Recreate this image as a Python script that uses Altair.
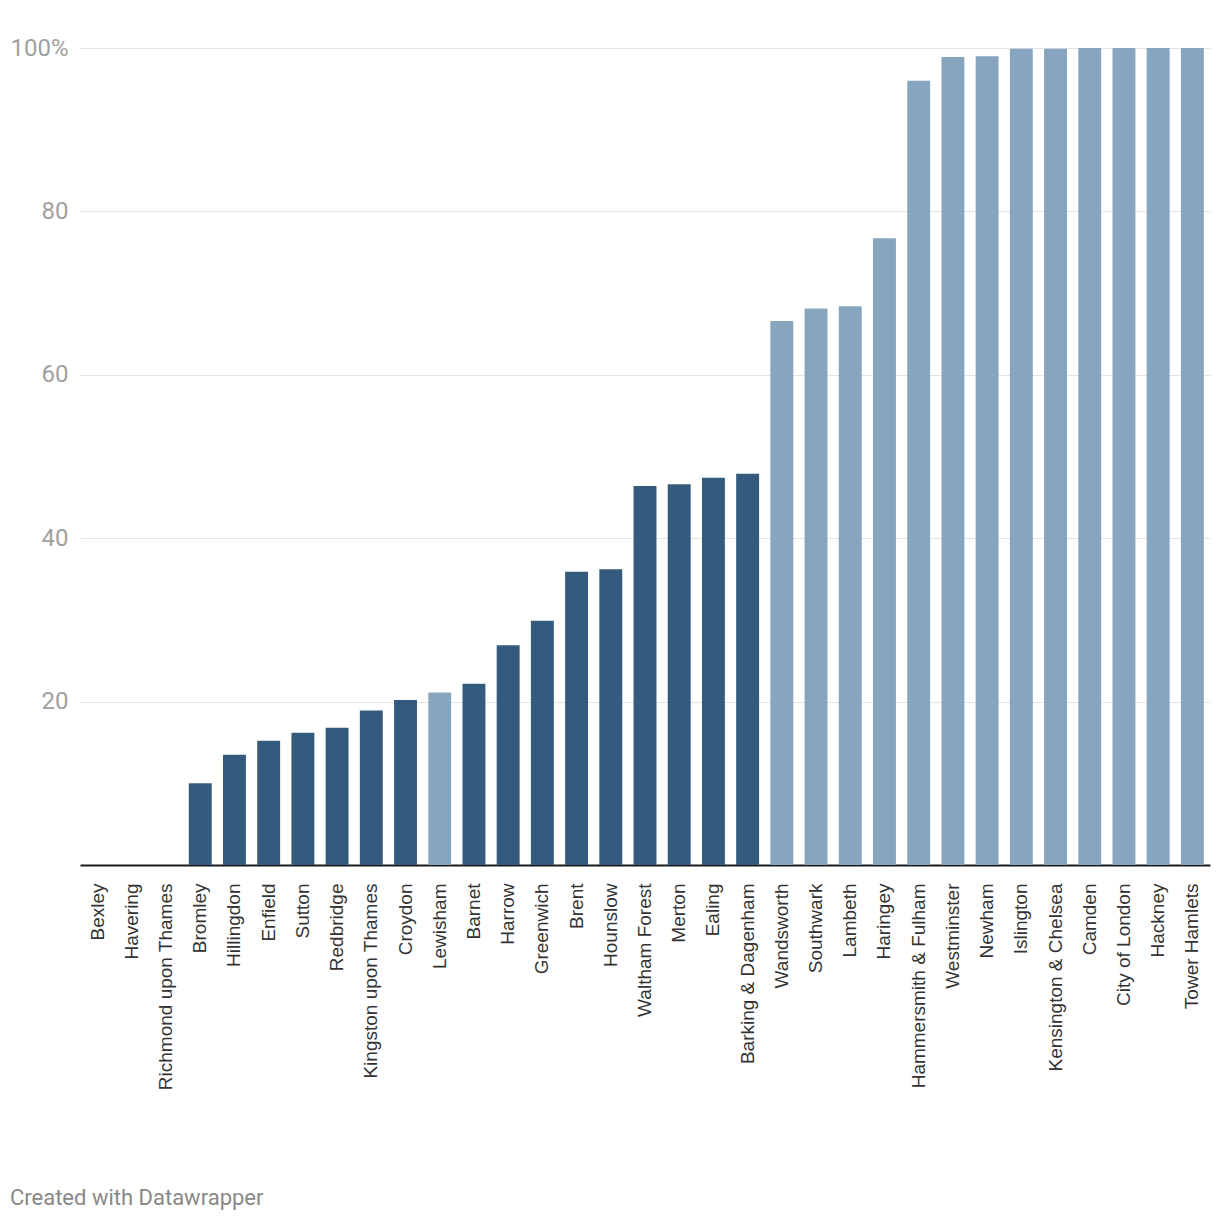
import altair as alt
import pandas as pd

boroughs = ["Bexley", "Havering", "Richmond upon Thames", "Bromley", "Hillingdon", "Enfield",
            "Sutton", "Redbridge", "Kingston upon Thames", "Croydon", "Lewisham", "Barnet",
            "Harrow", "Greenwich", "Brent", "Hounslow", "Waltham Forest", "Merton", "Ealing",
            "Barking & Dagenham", "Wandsworth", "Southwark", "Lambeth", "Haringey",
            "Hammersmith & Fulham", "Westminster", "Newham", "Islington", "Kensington & Chelsea",
            "Camden", "City of London", "Hackney", "Tower Hamlets"]
values = [0, 0, 0, 10.0, 13.5, 15.2, 16.2, 16.8, 18.9, 20.2, 21.1, 22.2, 26.9, 29.9, 35.9,
          36.2, 46.4, 46.6, 47.4, 47.9, 66.6, 68.1, 68.4, 76.7, 96.0, 98.9, 99.0, 99.9, 99.9,
          100, 100, 100, 100]
groups = ["dark"] * 10 + ["light"] + ["dark"] * 9 + ["light"] * 13

df = pd.DataFrame({"borough": boroughs, "value": values, "group": groups})

chart = alt.Chart(df).mark_bar().encode(
    x=alt.X("borough:N", sort=boroughs,
            scale=alt.Scale(paddingInner=0.33, paddingOuter=0.18),
            axis=alt.Axis(title=None, labelAngle=-90, labelFontSize=19, labelColor="#333333",
                          labelFont="Liberation Sans", labelLimit=400, ticks=False, tickSize=0,
                          labelPadding=18, domainColor="#1a1a1a", domainWidth=2, grid=False)),
    y=alt.Y("value:Q", scale=alt.Scale(domain=[0, 100], nice=False),
            axis=alt.Axis(title=None, values=[20, 40, 60, 80, 100],
                          labelExpr="datum.value == 100 ? '100%' : datum.label",
                          labelFontSize=24, labelColor="#a0a0a0", labelFont="Roboto",
                          labelPadding=12, ticks=False, domain=False, grid=True,
                          gridColor="#e3e3e3", gridWidth=1)),
    color=alt.Color("group:N", scale=alt.Scale(domain=["dark", "light"],
                                               range=["#345b7d", "#87a5bf"]), legend=None),
).properties(
    width=1130, height=817,
    title=alt.TitleParams("Created with Datawrapper", orient="bottom", anchor="start",
                          frame="bounds", fontSize=22, font="Roboto", fontWeight="normal",
                          color="#888888", offset=98),
    autosize=alt.AutoSizeParams(type="none"),
    padding={"left": 72, "top": 40, "right": 2, "bottom": 355},
).configure_view(stroke=None)

chart.save("out.html", embed_options={"renderer": "svg", "actions": False})
